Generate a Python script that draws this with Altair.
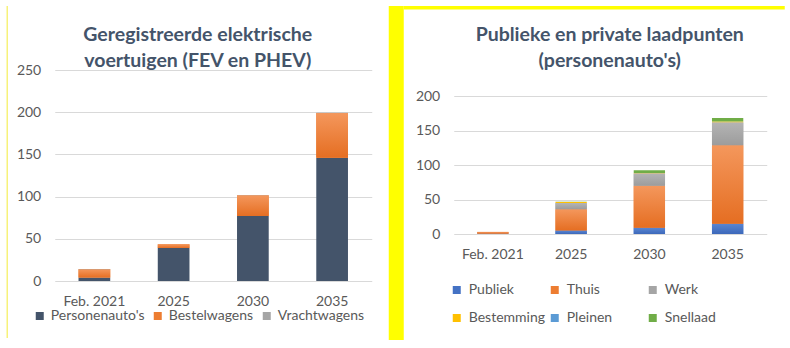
import altair as alt
import pandas as pd

periods = ["Feb. 2021", "2025", "2030", "2035"]

ev_series = ["Personenauto's", "Bestelwagens", "Vrachtwagens"]
ev_personenautos = [4, 39, 77, 146]
ev_bestelwagens = [10, 4.5, 24.5, 53]
ev_vrachtwagens = [0.1, 0.1, 0.2, 0.3]
ev_colors = ["#44546A", "#ED7D31", "#A5A5A5"]

lp_series = ["Publiek", "Thuis", "Werk", "Bestemming", "Pleinen", "Snellaad"]
lp_publiek = [0.5, 5, 9, 15]
lp_thuis = [2.5, 31, 61, 114]
lp_werk = [0, 9, 18, 33]
lp_bestemming = [0, 1.5, 0.5, 1.5]
lp_pleinen = [0, 0, 0, 0.2]
lp_snellaad = [0, 0.3, 4, 5]
lp_colors = ["#4472C4", "#ED7D31", "#A5A5A5", "#FFC000", "#5B9BD5", "#70AD47"]

gradients = {
    "#ED7D31": ("#F4975C", "#E56E22"),
    "#A5A5A5": ("#B4B4B4", "#9C9C9C"),
    "#4472C4": ("#5A86D2", "#3C68BA"),
}

FONT = "Lato"
TEXT = "#595959"
TITLE = "#44546A"
YELLOW = "#FFFF00"
PALE = "#F7F27A"


def long(series, columns):
    rows = []
    for k, (name, vals) in enumerate(zip(series, columns)):
        for p, v in zip(periods, vals):
            rows.append({"periode": p, "reeks": name, "waarde": v, "volgorde": k})
    return pd.DataFrame(rows)


one = pd.DataFrame({"deco": [0]})


def panel(df, series, colors, ymax, ydomain, ystep, legend, title_lines, title_x, title_y, rects):
    x_enc = alt.X(
        "periode:N", sort=periods,
        scale=alt.Scale(paddingInner=0.6, paddingOuter=0.3),
        axis=alt.Axis(title=None, labelAngle=0, domain=False, ticks=False, tickSize=0,
                      labelPadding=13, labelFontSize=14, labelColor=TEXT, labelFont=FONT,
                      grid=False),
    )
    y_scale = alt.Scale(domain=[0, ydomain], nice=False)
    y_axis = alt.Axis(title=None, values=list(range(0, ymax + 1, ystep)), domain=False,
                      ticks=False, tickSize=0, labelPadding=14, labelFontSize=14,
                      labelColor=TEXT, labelFont=FONT, grid=True, gridColor="#D9D9D9",
                      gridWidth=1)
    stacked = alt.Chart(df).transform_stack(
        stack="waarde", groupby=["periode"], as_=["y0", "y1"],
        sort=[alt.SortField("volgorde", order="ascending")],
    )
    base = stacked.mark_bar().encode(
        x=x_enc,
        y=alt.Y("y0:Q", scale=y_scale, axis=y_axis),
        y2="y1:Q",
        color=alt.Color("reeks:N", scale=alt.Scale(domain=series, range=colors), legend=legend),
    )
    layers = [base]
    for name, col in zip(series, colors):
        if col in gradients:
            top, bottom = gradients[col]
            grad = alt.LinearGradient(
                gradient="linear", x1=0, x2=0, y1=0, y2=1,
                stops=[alt.GradientStop(color=top, offset=0),
                       alt.GradientStop(color=bottom, offset=1)],
            )
            layers.append(
                stacked.transform_filter(alt.datum.reeks == name)
                .mark_bar(fill=grad)
                .encode(x=x_enc, y=alt.Y("y0:Q", scale=y_scale, axis=y_axis), y2="y1:Q")
            )
    for (xa, xb, ya, yb, c) in rects:
        layers.append(
            alt.Chart(one).mark_rect(color=c).encode(
                x=alt.value(xa), x2=alt.value(xb), y=alt.value(ya), y2=alt.value(yb)
            )
        )
    layers.append(
        alt.Chart(one).mark_text(
            text=title_lines, font=FONT, fontSize=19.5, fontWeight="bold", color=TITLE,
            align="center", baseline="alphabetic", lineHeight=25.7,
        ).encode(x=alt.value(title_x), y=alt.value(title_y))
    )
    return alt.layer(*layers)


ev_df = long(ev_series, [ev_personenautos, ev_bestelwagens, ev_vrachtwagens])
lp_df = long(lp_series, [lp_publiek, lp_thuis, lp_werk, lp_bestemming, lp_pleinen, lp_snellaad])

left_legend = alt.Legend(
    orient="none", legendX=-22, legendY=239, direction="horizontal", title=None,
    symbolType="square", symbolSize=64, symbolStrokeWidth=0, labelFontSize=14,
    labelColor=TEXT, labelFont=FONT, columnPadding=6, labelOffset=4, padding=0,
)
right_legend = alt.Legend(
    orient="none", legendX=-4, legendY=213, direction="horizontal", title=None,
    columns=3, symbolType="square", symbolSize=64, symbolStrokeWidth=0,
    labelFontSize=14, labelColor=TEXT, labelFont=FONT, columnPadding=2, rowPadding=14,
    labelOffset=5, gridAlign="all", padding=0,
)

left = panel(
    ev_df, ev_series, ev_colors, 250, 250, 50, left_legend,
    ["Geregistreerde elektrische", "voertuigen (FEV en PHEV)"], 143, -29,
    [(-48.25, -46.75, -64, 268, PALE)],
).properties(width=317, height=211)

right = panel(
    lp_df, lp_series, lp_colors, 200, 238.4, 50, right_legend,
    ["Publieke en private laadpunten", "(personenauto's)"], 156, -29,
    [(-65, -50, -64, 270, YELLOW), (-50, 331, -64, -60.5, YELLOW)],
).properties(width=313, height=164)

chart = (
    alt.hconcat(left, right, spacing=17)
    .resolve_scale(color="independent")
    .resolve_legend(color="independent")
    .properties(
        padding={"left": 5.75, "top": 6, "right": 0, "bottom": 0},
        background="white",
    )
    .configure_view(stroke=None)
)

chart.save("out.html", embed_options={"renderer": "svg", "actions": False})
